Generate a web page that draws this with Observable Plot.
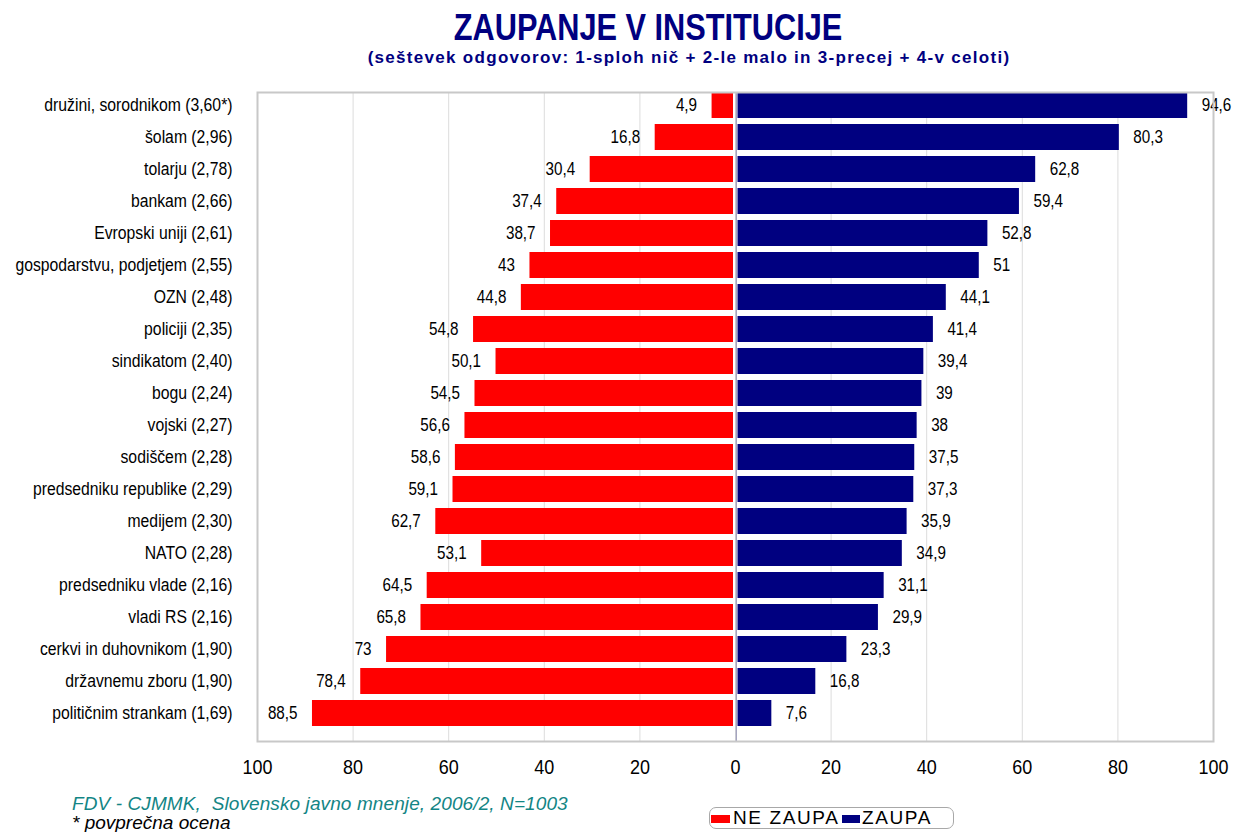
<!DOCTYPE html>
<html>
<head>
<meta charset="utf-8">
<script src="https://cdn.jsdelivr.net/npm/d3@7"></script>
<script src="https://cdn.jsdelivr.net/npm/@observablehq/plot@0.6"></script>
<style>
  body { margin:0; background:#fff; font-family:"Liberation Sans",Arial,sans-serif; }
  #wrap { position:relative; width:1234px; height:832px; overflow:hidden; }
  #head { position:relative; height:80px; }
  .ctr { position:absolute; white-space:nowrap; line-height:1; transform:translateX(-50%); }
  #title { left:648px; top:9px; font-weight:bold; font-size:37px; color:#000080; transform:translateX(-50%) scaleX(0.83); }
  #sub { left:689px; top:49px; font-weight:bold; font-size:17px; color:#000080; letter-spacing:1.3px; }
  #foot { position:relative; height:42px; }
  #cap1 { position:absolute; left:72px; top:5px; line-height:18px; font-style:italic; font-size:19px; color:#138585; white-space:nowrap; letter-spacing:0.1px; }
  #cap2 { position:absolute; left:72px; top:23px; line-height:19px; font-style:italic; font-size:19px; color:#000; white-space:nowrap; }
  #legend { position:absolute; left:709px; top:17px; width:245px; height:22px; border:1px solid #a8a8a8; border-radius:7px; box-sizing:border-box; font-size:19px; color:#000; }
  .sw { position:absolute; top:7px; height:8px; }
  .lt { position:absolute; top:-1px; letter-spacing:1.6px; white-space:nowrap; line-height:22px; }
</style>
</head>
<body>
<div id="wrap">
  <div id="head">
    <div id="title" class="ctr">ZAUPANJE V INSTITUCIJE</div>
    <div id="sub" class="ctr">(seštevek odgovorov: 1-sploh nič + 2-le malo in 3-precej + 4-v celoti)</div>
  </div>
  <div id="chart"></div>
  <div id="foot">
    <div id="cap1">FDV - CJMMK,&nbsp; Slovensko javno mnenje, 2006/2, N=1003</div>
    <div id="cap2">* povprečna ocena</div>
    <div id="legend">
      <div class="sw" style="left:1px;width:19px;background:#ff0000"></div><div class="lt" style="left:23px">NE ZAUPA</div>
      <div class="sw" style="left:132px;width:18px;background:#000080"></div><div class="lt" style="left:152px">ZAUPA</div>
    </div>
  </div>
</div>
<script>
const categories = [
  "družini, sorodnikom (3,60*)",
  "šolam (2,96)",
  "tolarju (2,78)",
  "bankam (2,66)",
  "Evropski uniji (2,61)",
  "gospodarstvu, podjetjem (2,55)",
  "OZN (2,48)",
  "policiji (2,35)",
  "sindikatom (2,40)",
  "bogu (2,24)",
  "vojski (2,27)",
  "sodiščem (2,28)",
  "predsedniku republike (2,29)",
  "medijem (2,30)",
  "NATO (2,28)",
  "predsedniku vlade (2,16)",
  "vladi RS (2,16)",
  "cerkvi in duhovnikom (1,90)",
  "državnemu zboru (1,90)",
  "političnim strankam (1,69)"
];
const neZaupa = [4.9, 16.8, 30.4, 37.4, 38.7, 43, 44.8, 54.8, 50.1, 54.5, 56.6, 58.6, 59.1, 62.7, 53.1, 64.5, 65.8, 73, 78.4, 88.5];
const zaupa = [94.6, 80.3, 62.8, 59.4, 52.8, 51, 44.1, 41.4, 39.4, 39, 38, 37.5, 37.3, 35.9, 34.9, 31.1, 29.9, 23.3, 16.8, 7.6];
const xTicks = [-100, -80, -60, -40, -20, 0, 20, 40, 60, 80, 100];

const data = categories.map((c, i) => ({cat: c, ne: neZaupa[i], za: zaupa[i]}));
const fmt = v => String(v).replace(".", ",");

const chart = Plot.plot({
  width: 1234,
  height: 710,
  marginTop: 12,
  marginBottom: 49,
  marginLeft: 257,
  marginRight: 21,
  style: {fontFamily: '"Liberation Sans",Arial,sans-serif', background: "#fff", color: "#000"},
  x: {domain: [-100, 100], label: null},
  y: {domain: categories, paddingInner: 0.2, paddingOuter: 0.1, align: 0, label: null},
  marks: [
    Plot.ruleX(xTicks, {stroke: "#dcdcdc", strokeWidth: 1}),
    Plot.barX(data, {x1: 0, x2: d => -d.ne, y: "cat", fill: "#ff0000", insetRight: 2}),
    Plot.barX(data, {x1: 0, x2: "za", y: "cat", fill: "#000080", insetLeft: 2.5}),
    Plot.ruleX([0], {stroke: "#9a9ab8", strokeWidth: 1.2, dx: 0.8}),
    Plot.text(data, {x: d => -d.ne, y: "cat", text: d => fmt(d.ne), textAnchor: "end", dx: -15, fontSize: 17.5, className: "vlab"}),
    Plot.text(data, {x: "za", y: "cat", text: d => fmt(d.za), textAnchor: "start", dx: 14, fontSize: 17.5, className: "vlab"}),
    Plot.frame({stroke: "#c8c8c8", strokeWidth: 2}),
    Plot.axisX(xTicks, {tickSize: 0, tickPadding: 19, fontSize: 19.5, tickFormat: d => Math.abs(d), label: null}),
    Plot.axisY({tickSize: 0, tickPadding: 25, fontSize: 17.5, label: null})
  ]
});
document.getElementById("chart").appendChild(chart);

// condense glyphs slightly (as in the original narrow typeface) while keeping real text
function condense(sel, k) {
  chart.querySelectorAll(sel).forEach(t => {
    const w = t.getComputedTextLength();
    if (w > 0) {
      t.setAttribute("textLength", (w * k).toFixed(1));
      t.setAttribute("lengthAdjust", "spacingAndGlyphs");
    }
  });
}
condense('g[aria-label="y-axis tick label"] text', 0.9);
condense('g.vlab text, g[aria-label="text"] text', 0.87);
condense('g[aria-label="x-axis tick label"] text', 0.92);
</script>
</body>
</html>
